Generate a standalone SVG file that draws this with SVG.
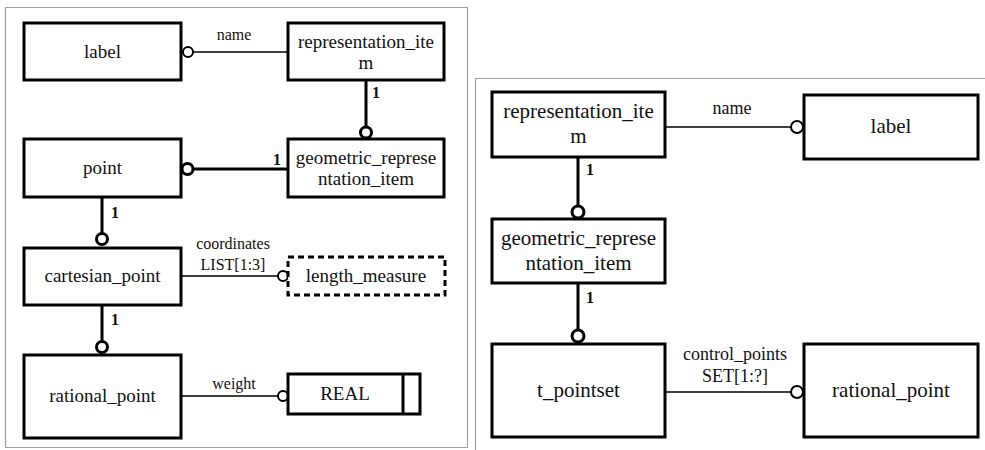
<svg xmlns="http://www.w3.org/2000/svg" width="985" height="450" viewBox="0 0 985 450">
<style>
.frame{fill:none;stroke:#a0a0a0;stroke-width:1.2}
.box{fill:#fff;stroke:#000;stroke-width:3}
.dbox{fill:#fff;stroke:#000;stroke-width:3;stroke-dasharray:6,4}
text{font-family:'Liberation Serif','DejaVu Serif','Times New Roman',serif;fill:#111}
.t{font-size:19px;text-anchor:middle}
.tr{font-size:21px;text-anchor:middle}
.s{font-size:16px;text-anchor:middle}
.sr{font-size:18px;text-anchor:middle}
.n{font-size:16px;font-weight:bold}
.thin{stroke:#000;stroke-width:1.6;fill:none}
.thick{stroke:#000;stroke-width:3;fill:none}
.c1{fill:#fff;stroke:#000;stroke-width:2}
.c2{fill:#fff;stroke:#000;stroke-width:3}
</style>
<rect width="985" height="450" fill="#fff"/>
<path class="frame" d="M5.5,7.5 H467.5 V447.5 H5.5 Z"/>
<path class="frame" d="M475.5,450 V78.5 H985"/>

<g id="connectors">
  <line class="thin" x1="193" y1="52" x2="288" y2="52"/>
  <circle class="c1" cx="188" cy="52" r="5"/>
  <text class="s" x="234" y="40">name</text>
  <line class="thick" x1="366" y1="80" x2="366" y2="127"/>
  <circle class="c2" cx="366" cy="132.5" r="5.5"/>
  <text class="n" x="372" y="98">1</text>
  <line class="thick" x1="193" y1="169" x2="288" y2="169"/>
  <circle class="c2" cx="187.5" cy="169" r="5.5"/>
  <text class="n" x="273" y="165">1</text>
  <line class="thick" x1="102" y1="197" x2="102" y2="233"/>
  <circle class="c2" cx="102" cy="239" r="5.5"/>
  <text class="n" x="111" y="218">1</text>
  <line class="thin" x1="181" y1="276" x2="278" y2="276"/>
  <circle class="c1" cx="283" cy="276" r="5"/>
  <text class="s" x="233" y="249">coordinates</text>
  <text class="s" x="233" y="270">LIST[1:3]</text>
  <line class="thick" x1="102" y1="305" x2="102" y2="341"/>
  <circle class="c2" cx="102" cy="347" r="5.5"/>
  <text class="n" x="111" y="325">1</text>
  <line class="thin" x1="181" y1="396" x2="278" y2="396"/>
  <circle class="c1" cx="283" cy="396" r="5"/>
  <text class="s" x="234" y="389">weight</text>
  <line class="thin" x1="665" y1="127" x2="791" y2="127"/>
  <circle class="c1" cx="797" cy="127" r="6"/>
  <text class="sr" x="732" y="114">name</text>
  <line class="thick" x1="578" y1="157" x2="578" y2="206"/>
  <circle class="c2" cx="578" cy="212" r="6"/>
  <text class="n" x="586" y="175">1</text>
  <line class="thick" x1="578" y1="283" x2="578" y2="330"/>
  <circle class="c2" cx="578" cy="336" r="6"/>
  <text class="n" x="586" y="303">1</text>
  <line class="thin" x1="665" y1="392" x2="791" y2="392"/>
  <circle class="c1" cx="797" cy="392" r="6"/>
  <text class="sr" x="735" y="360">control_points</text>
  <text class="sr" x="735" y="382">SET[1:?]</text>
</g>

<g id="l_label"><rect class="box" x="24" y="23" width="157" height="57"/><text class="t" x="102.5" y="58">label</text></g>
<g id="l_representation_item"><rect class="box" x="288" y="23" width="156" height="57"/><text class="t" x="366" y="48">representation_ite</text><text class="t" x="366" y="69">m</text></g>
<g id="l_point"><rect class="box" x="24" y="139" width="157" height="58"/><text class="t" x="102.5" y="174">point</text></g>
<g id="l_geometric_representation_item"><rect class="box" x="288" y="139" width="156" height="58"/><text class="t" x="366" y="164">geometric_represe</text><text class="t" x="366" y="185">ntation_item</text></g>
<g id="l_cartesian_point"><rect class="box" x="24" y="248" width="157" height="57"/><text class="t" x="102.5" y="282">cartesian_point</text></g>
<g id="l_length_measure"><rect class="dbox" x="288" y="257" width="157" height="38"/><text class="t" x="366" y="282">length_measure</text></g>
<g id="l_rational_point"><rect class="box" x="24" y="355" width="157" height="83"/><text class="t" x="102.5" y="402">rational_point</text></g>
<g id="l_real"><rect class="box" x="288" y="374" width="132" height="40"/><line class="thick" x1="403" y1="374" x2="403" y2="414"/><text class="t" x="345" y="400">REAL</text></g>

<g id="r_representation_item"><rect class="box" x="492" y="92" width="173" height="65"/><text class="tr" x="578.5" y="118">representation_ite</text><text class="tr" x="578.5" y="143">m</text></g>
<g id="r_label"><rect class="box" x="804" y="95" width="174" height="64"/><text class="tr" x="891" y="133">label</text></g>
<g id="r_geometric_representation_item"><rect class="box" x="492" y="219" width="173" height="64"/><text class="tr" x="578.5" y="245">geometric_represe</text><text class="tr" x="578.5" y="270">ntation_item</text></g>
<g id="r_t_pointset"><rect class="box" x="492" y="344" width="173" height="93"/><text class="tr" x="578.5" y="397">t_pointset</text></g>
<g id="r_rational_point"><rect class="box" x="804" y="344" width="174" height="93"/><text class="tr" x="891" y="397">rational_point</text></g>
</svg>
